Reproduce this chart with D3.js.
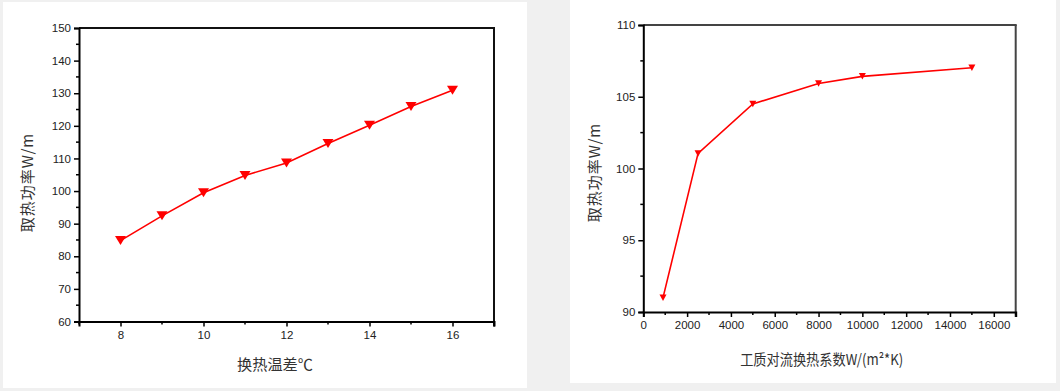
<!DOCTYPE html>
<html><head><meta charset="utf-8">
<script src="https://cdn.jsdelivr.net/npm/d3@7"></script>
<style>
html,body{margin:0;padding:0;background:#f0f0f0;}
svg{display:block;}
</style></head>
<body>
<svg id="c" width="1060" height="391"></svg>
<script>
// Left chart data
const tempDiff = [8, 9, 10, 11, 12, 13, 14, 15, 16];
const powerA = [84.8, 92.4, 99.5, 104.8, 108.6, 114.6, 120.2, 125.9, 130.9];
const xTicksA = [8, 10, 12, 14, 16];
const yTicksA = [60, 70, 80, 90, 100, 110, 120, 130, 140, 150];
// Right chart data
const hCoef = [900, 2500, 5000, 8000, 10000, 15000];
const powerB = [91.0, 101.05, 104.5, 105.92, 106.42, 107.02];
const xTicksB = [0, 2000, 4000, 6000, 8000, 10000, 12000, 14000, 16000];
const yTicksB = [90, 95, 100, 105, 110];

const svg = d3.select("#c");
svg.append("rect").attr("x",0).attr("y",0).attr("width",1060).attr("height",391).attr("fill","#f0f0f0");
svg.append("rect").attr("x",3).attr("y",2).attr("width",524).attr("height",386).attr("fill","#fff");
svg.append("rect").attr("x",570).attr("y",0).attr("width",486).attr("height",383).attr("fill","#fff");

function chart(o){
  const g = svg.append("g");
  const x = d3.scaleLinear().domain(o.xd).range([o.x0,o.x1]);
  const y = d3.scaleLinear().domain(o.yd).range([o.y1,o.y0]);
  g.append("line").attr("x1",o.x0).attr("x2",o.x1+1).attr("y1",o.y0).attr("y2",o.y0).attr("stroke",o.frame).attr("stroke-width",2);
  g.append("line").attr("x1",o.x1).attr("x2",o.x1).attr("y1",o.y0).attr("y2",o.y1+5).attr("stroke",o.frame).attr("stroke-width",2);
  const xb = g.append("g").attr("transform",`translate(0,${o.y1})`);
  xb.selectAll("line.mn").data(o.xMinor).enter().append("line")
    .attr("x1",d=>x(d)).attr("x2",d=>x(d)).attr("y1",0).attr("y2",3).attr("stroke","#000").attr("stroke-width",1.5);
  const yb = g.append("g").attr("transform",`translate(${o.x0},0)`);
  yb.selectAll("line.mn").data(o.yMinor).enter().append("line")
    .attr("y1",d=>y(d)).attr("y2",d=>y(d)).attr("x1",0).attr("x2",-3).attr("stroke","#000").attr("stroke-width",1.5);
  const xAxis = d3.axisBottom(x).tickValues(o.xt).tickSizeOuter(0).tickSize(5).tickPadding(4).tickFormat(d3.format("d"));
  const yAxis = d3.axisLeft(y).tickValues(o.yt).tickSizeOuter(0).tickSize(5).tickPadding(3).tickFormat(d3.format("d"));
  const ax = g.append("g").attr("transform",`translate(0,${o.y1})`).call(xAxis);
  const ay = g.append("g").attr("transform",`translate(${o.x0},0)`).call(yAxis);
  [ax,ay].forEach(a=>{
    a.select(".domain").attr("stroke","#000").attr("stroke-width",2);
    a.selectAll(".tick line").attr("stroke","#000").attr("stroke-width",1.5);
    a.selectAll("text").attr("font-family","'Liberation Sans',Arial,sans-serif").attr("font-size",11.5).attr("fill","#222");
  });
  const pts = o.xs.map((d,i)=>[x(d),y(o.ys[i])]);
  g.append("path").attr("d",d3.line()(pts)).attr("fill","none").attr("stroke","#ff0000").attr("stroke-width",1.6);
  const w=o.mw, h=o.mh;
  g.selectAll("path.m").data(pts).enter().append("path")
    .attr("d",p=>`M${p[0]-w/2},${p[1]-h/2}L${p[0]+w/2},${p[1]-h/2}L${p[0]},${p[1]+h/2}Z`)
    .attr("fill","#ff0000");
  g.append("text").attr("x",o.xtx).attr("y",o.xty).attr("text-anchor","middle")
    .attr("font-family","'Noto Sans CJK SC',sans-serif").attr("font-size",15).attr("fill","#333")
    .attr("textLength",o.xtl).attr("lengthAdjust","spacingAndGlyphs").text(o.xtitle);
  g.append("text").attr("transform",`translate(${o.ytx},${o.yty}) rotate(-90)`).attr("text-anchor","middle")
    .attr("font-family","'Noto Sans CJK SC',sans-serif").attr("font-size",15).attr("fill","#333")
    .attr("letter-spacing",1).text(o.ytitle);
  return g;
}

chart({x0:79,x1:494,y0:28,y1:321.5,xd:[7,17],yd:[60,150],xt:xTicksA,yt:yTicksA,
  xMinor:[7,9,11,13,15,17],yMinor:[65,75,85,95,105,115,125,135,145],
  xs:tempDiff,ys:powerA,mw:11,mh:9,frame:"#111",
  xtitle:"换热温差℃",xtx:275,xty:370,xtl:76,ytitle:"取热功率W/m",ytx:33,yty:182.5});

chart({x0:643.3,x1:1015.7,y0:25,y1:312,xd:[0,17000],yd:[90,110],xt:xTicksB,yt:yTicksB,
  xMinor:[1000,3000,5000,7000,9000,11000,13000,15000,17000],yMinor:[92.5,97.5,102.5,107.5],
  xs:hCoef,ys:powerB,mw:7,mh:6.5,frame:"#444",
  xtitle:"工质对流换热系数W/(m²*K)",xtx:821.7,xty:365,xtl:163,ytitle:"取热功率W/m",ytx:600,yty:172.5});
</script>
</body></html>
